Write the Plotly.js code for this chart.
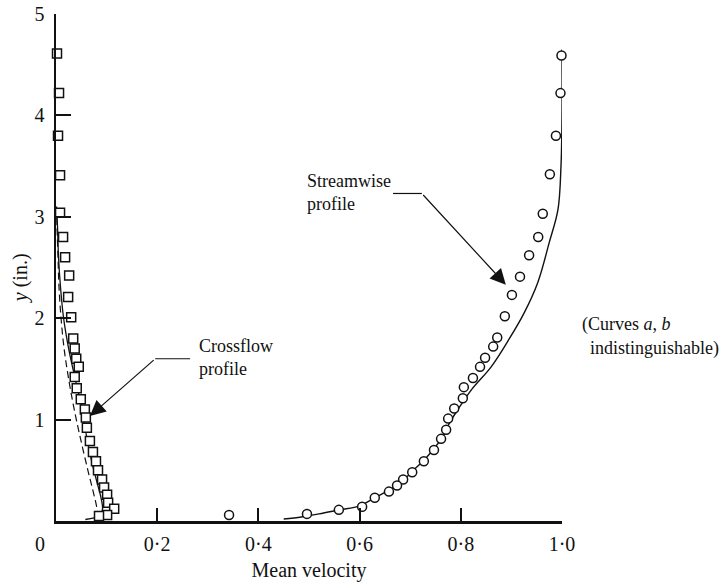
<!DOCTYPE html>
<html><head><meta charset="utf-8">
<script src="https://cdn.plot.ly/plotly-3.0.1.min.js"></script>
<style>html,body{margin:0;padding:0;background:#fff}#chart{width:721px;height:587px}</style>
</head><body><div id="chart"></div>
<script>
// Crossflow measured (squares)
var crossX = [0.002,0.006,0.004,0.008,0.008,0.014,0.018,0.026,0.024,0.030,0.034,0.037,0.040,0.045,0.037,0.041,0.049,0.057,0.059,0.061,0.067,0.073,0.079,0.083,0.091,0.095,0.101,0.103,0.115,0.101,0.085];
var crossY = [4.61,4.22,3.80,3.41,3.04,2.80,2.60,2.42,2.21,2.01,1.80,1.70,1.60,1.52,1.42,1.31,1.20,1.10,1.02,0.92,0.79,0.68,0.59,0.50,0.41,0.33,0.26,0.18,0.12,0.06,0.05];
// Streamwise measured (circles)
var streamX = [0.999,0.997,0.988,0.976,0.962,0.953,0.935,0.917,0.901,0.887,0.872,0.864,0.848,0.838,0.824,0.806,0.804,0.787,0.775,0.771,0.761,0.747,0.727,0.704,0.686,0.674,0.658,0.630,0.605,0.559,0.496,0.342];
var streamY = [4.59,4.22,3.80,3.42,3.03,2.80,2.62,2.41,2.23,2.02,1.81,1.72,1.61,1.52,1.41,1.32,1.21,1.11,1.01,0.90,0.81,0.70,0.59,0.48,0.41,0.35,0.29,0.23,0.14,0.11,0.07,0.06];
// Streamwise computed curve
var sCurveX = [0.450,0.485,0.520,0.560,0.600,0.630,0.660,0.686,0.706,0.729,0.748,0.764,0.778,0.797,0.822,0.860,0.895,0.925,0.952,0.975,0.992,0.998,1.000,1.000];
var sCurveY = [0.02,0.04,0.07,0.11,0.15,0.23,0.31,0.40,0.50,0.61,0.72,0.83,0.97,1.12,1.30,1.52,1.79,2.05,2.35,2.75,3.07,3.50,4.00,4.65];
// Crossflow computed curves (solid, dashed)
var cSolidX = [0.001,0.003,0.005,0.009,0.015,0.025,0.038,0.052,0.058,0.070,0.080,0.088,0.092,0.088,0.075,0.058];
var cSolidY = [3.10,2.90,2.60,2.30,2.00,1.70,1.40,1.10,0.90,0.60,0.40,0.25,0.12,0.06,0.03,0.015];
var cDashX = [0.001,0.002,0.004,0.006,0.010,0.016,0.025,0.036,0.049,0.063,0.073,0.080,0.083];
var cDashY = [3.10,2.90,2.60,2.30,2.00,1.70,1.40,1.10,0.80,0.50,0.30,0.15,0.06];
// Tick labels
var xTickVals = [0.2,0.4,0.6,0.8,1.0];
var xTickText = ['0·2','0·4','0·6','0·8','1·0'];
var yTickVals = [1,2,3,4,5];
var yTickText = ['1','2','3','4','5'];

var FONT = '"Liberation Serif","Times New Roman",serif';
var INK = '#111';

var traces = [
  {x: cDashX, y: cDashY, mode: 'lines', line: {color: INK, width: 1.2, dash: '7px,4px', shape: 'spline'}, hoverinfo: 'skip'},
  {x: cSolidX, y: cSolidY, mode: 'lines', line: {color: INK, width: 1.3, shape: 'spline'}, hoverinfo: 'skip'},
  {x: sCurveX, y: sCurveY, mode: 'lines', line: {color: INK, width: 1.4, shape: 'spline'}, hoverinfo: 'skip'},
  {x: crossX, y: crossY, mode: 'markers', cliponaxis: false,
   marker: {symbol: 'square', size: 9, color: '#fff', line: {color: INK, width: 1.5}}},
  {x: streamX, y: streamY, mode: 'markers', cliponaxis: false,
   marker: {symbol: 'circle', size: 9, color: '#fff', line: {color: INK, width: 1.5}}}
];

var layout = {
  width: 721, height: 587,
  margin: {l: 56, r: 159, t: 14, b: 66},
  paper_bgcolor: '#fff', plot_bgcolor: '#fff',
  showlegend: false,
  font: {family: FONT, color: INK, size: 20},
  xaxis: {
    range: [0, 1], showgrid: false, zeroline: false,
    showline: true, linecolor: INK, linewidth: 2.5,
    ticks: 'inside', ticklen: 13, tickwidth: 2, tickcolor: INK,
    tickvals: xTickVals, ticktext: xTickText, ticklabelstandoff: 3,
    tickfont: {family: FONT, size: 20, color: INK},
    title: {text: 'Mean velocity', font: {family: FONT, size: 20, color: INK}, standoff: 10}
  },
  yaxis: {
    range: [0, 5], showgrid: false, zeroline: false,
    showline: true, linecolor: INK, linewidth: 2.5,
    ticks: 'inside', ticklen: 15, tickwidth: 2, tickcolor: INK,
    tickvals: yTickVals, ticktext: yTickText, ticklabelstandoff: 5,
    tickfont: {family: FONT, size: 20, color: INK}
  },
  shapes: [
    {type: 'line', xref: 'x', yref: 'y', x0: 0.666, x1: 0.723, y0: 3.23, y1: 3.23, line: {color: INK, width: 1.2}},
    {type: 'line', xref: 'x', yref: 'y', x0: 0.196, x1: 0.265, y0: 1.60, y1: 1.60, line: {color: INK, width: 1.2}}
  ],
  annotations: [
    {xref: 'x', yref: 'y', x: 0.889, y: 2.33, ax: 0.723, ay: 3.23, axref: 'x', ayref: 'y', text: '',
     showarrow: true, arrowhead: 2, arrowsize: 2.6, arrowwidth: 1.2, arrowcolor: INK},
    {xref: 'x', yref: 'y', x: 0.067, y: 1.035, ax: 0.196, ay: 1.60, axref: 'x', ayref: 'y', text: '',
     showarrow: true, arrowhead: 2, arrowsize: 2.6, arrowwidth: 1.2, arrowcolor: INK},
    {xref: 'x', yref: 'y', x: 0.492, y: 3.24, xanchor: 'left', yanchor: 'middle', align: 'left',
     text: 'Streamwise<br>profile', showarrow: false, font: {family: FONT, size: 18, color: INK}},
    {xref: 'x', yref: 'y', x: 0.279, y: 1.61, xanchor: 'left', yanchor: 'middle', align: 'left',
     text: 'Crossflow<br>profile', showarrow: false, font: {family: FONT, size: 18, color: INK}},
    {xref: 'paper', yref: 'paper', x: 1.036, y: 0.387, xanchor: 'left', yanchor: 'middle', align: 'left',
     text: '(Curves <i>a</i>, <i>b</i>', showarrow: false, font: {family: FONT, size: 18, color: INK}},
    {xref: 'paper', yref: 'paper', x: 1.052, y: 0.341, xanchor: 'left', yanchor: 'middle', align: 'left',
     text: 'indistinguishable)', showarrow: false, font: {family: FONT, size: 18, color: INK}},
    {xref: 'paper', yref: 'paper', x: -0.032, y: -0.045, xanchor: 'center', yanchor: 'middle',
     text: '0', showarrow: false, font: {family: FONT, size: 20, color: INK}},
    {xref: 'paper', yref: 'paper', x: -0.071, y: 0.479, xanchor: 'center', yanchor: 'middle', textangle: -90,
     text: '<i>y</i> (in.)', showarrow: false, font: {family: FONT, size: 20, color: INK}}
  ]
};

Plotly.newPlot('chart', traces, layout, {displayModeBar: false, staticPlot: true});
</script></body></html>
